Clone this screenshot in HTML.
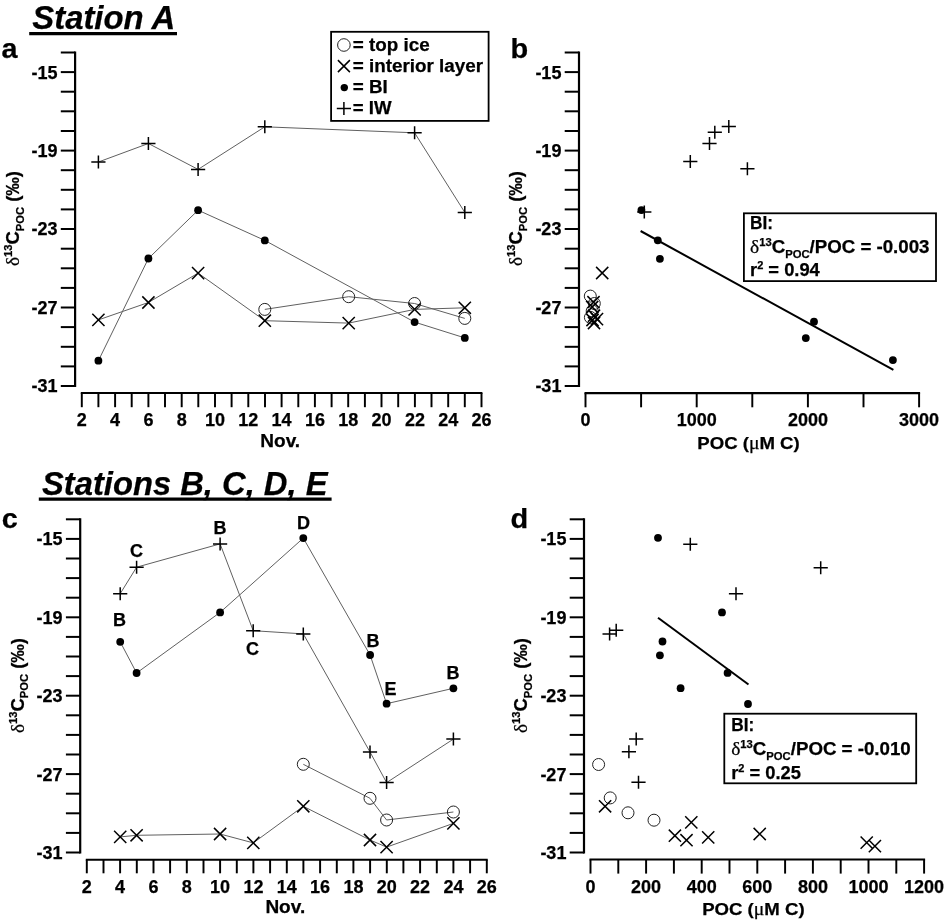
<!DOCTYPE html>
<html lang="en"><head><meta charset="utf-8"><title>Figure</title>
<style>html,body{margin:0;padding:0;background:#fff}svg{display:block}</style></head><body>
<svg width="945" height="920" viewBox="0 0 945 920" font-family="'Liberation Sans', Arial, Helvetica, sans-serif" font-weight="bold" fill="#000"><style>text{stroke:#000;stroke-width:0.25px}</style>
<rect width="945" height="920" fill="#fff"/>
<text x="32.3" y="29.3" font-size="33" font-style="italic" textLength="143" lengthAdjust="spacingAndGlyphs">Station A</text>
<line x1="29.2" y1="33.6" x2="177.0" y2="33.6" stroke="#000" stroke-width="3.1" stroke-linecap="butt"/>
<text x="42" y="495.3" font-size="33" font-style="italic" textLength="285.5" lengthAdjust="spacingAndGlyphs">Stations B, C, D, E</text>
<line x1="38.8" y1="499.1" x2="331.6" y2="499.1" stroke="#000" stroke-width="3.1" stroke-linecap="butt"/>
<text x="1.6" y="58.3" font-size="27.5" text-anchor="start" textLength="16" lengthAdjust="spacingAndGlyphs">a</text>
<text x="510.6" y="58.3" font-size="27.5" text-anchor="start" textLength="17.7" lengthAdjust="spacingAndGlyphs">b</text>
<text x="1.8" y="528.2" font-size="27.5" text-anchor="start" textLength="16" lengthAdjust="spacingAndGlyphs">c</text>
<text x="510.6" y="528.2" font-size="27.5" text-anchor="start" textLength="17.7" lengthAdjust="spacingAndGlyphs">d</text>
<line x1="75.1" y1="51.5" x2="75.1" y2="387.0" stroke="#000" stroke-width="2.2" stroke-linecap="butt"/>
<line x1="60.8" y1="52.5" x2="75.1" y2="52.5" stroke="#000" stroke-width="2.0" stroke-linecap="butt"/>
<line x1="60.8" y1="72.1" x2="75.1" y2="72.1" stroke="#000" stroke-width="2.0" stroke-linecap="butt"/>
<line x1="60.8" y1="91.7" x2="75.1" y2="91.7" stroke="#000" stroke-width="2.0" stroke-linecap="butt"/>
<line x1="60.8" y1="111.3" x2="75.1" y2="111.3" stroke="#000" stroke-width="2.0" stroke-linecap="butt"/>
<line x1="60.8" y1="131.0" x2="75.1" y2="131.0" stroke="#000" stroke-width="2.0" stroke-linecap="butt"/>
<line x1="60.8" y1="150.6" x2="75.1" y2="150.6" stroke="#000" stroke-width="2.0" stroke-linecap="butt"/>
<line x1="60.8" y1="170.2" x2="75.1" y2="170.2" stroke="#000" stroke-width="2.0" stroke-linecap="butt"/>
<line x1="60.8" y1="189.8" x2="75.1" y2="189.8" stroke="#000" stroke-width="2.0" stroke-linecap="butt"/>
<line x1="60.8" y1="209.4" x2="75.1" y2="209.4" stroke="#000" stroke-width="2.0" stroke-linecap="butt"/>
<line x1="60.8" y1="229.0" x2="75.1" y2="229.0" stroke="#000" stroke-width="2.0" stroke-linecap="butt"/>
<line x1="60.8" y1="248.7" x2="75.1" y2="248.7" stroke="#000" stroke-width="2.0" stroke-linecap="butt"/>
<line x1="60.8" y1="268.3" x2="75.1" y2="268.3" stroke="#000" stroke-width="2.0" stroke-linecap="butt"/>
<line x1="60.8" y1="287.9" x2="75.1" y2="287.9" stroke="#000" stroke-width="2.0" stroke-linecap="butt"/>
<line x1="60.8" y1="307.5" x2="75.1" y2="307.5" stroke="#000" stroke-width="2.0" stroke-linecap="butt"/>
<line x1="60.8" y1="327.1" x2="75.1" y2="327.1" stroke="#000" stroke-width="2.0" stroke-linecap="butt"/>
<line x1="60.8" y1="346.8" x2="75.1" y2="346.8" stroke="#000" stroke-width="2.0" stroke-linecap="butt"/>
<line x1="60.8" y1="366.4" x2="75.1" y2="366.4" stroke="#000" stroke-width="2.0" stroke-linecap="butt"/>
<line x1="60.8" y1="386.0" x2="75.1" y2="386.0" stroke="#000" stroke-width="2.0" stroke-linecap="butt"/>
<text x="57.5" y="78.5" font-size="18" text-anchor="end" >-15</text>
<text x="57.5" y="157.0" font-size="18" text-anchor="end" >-19</text>
<text x="57.5" y="235.4" font-size="18" text-anchor="end" >-23</text>
<text x="57.5" y="313.9" font-size="18" text-anchor="end" >-27</text>
<text x="57.5" y="392.4" font-size="18" text-anchor="end" >-31</text>
<line x1="80.8" y1="393.0" x2="482.4" y2="393.0" stroke="#000" stroke-width="2.05" stroke-linecap="butt"/>
<line x1="81.8" y1="393.0" x2="81.8" y2="407.2" stroke="#000" stroke-width="1.95" stroke-linecap="butt"/>
<line x1="98.4" y1="393.0" x2="98.4" y2="407.2" stroke="#000" stroke-width="1.95" stroke-linecap="butt"/>
<line x1="115.1" y1="393.0" x2="115.1" y2="407.2" stroke="#000" stroke-width="1.95" stroke-linecap="butt"/>
<line x1="131.7" y1="393.0" x2="131.7" y2="407.2" stroke="#000" stroke-width="1.95" stroke-linecap="butt"/>
<line x1="148.4" y1="393.0" x2="148.4" y2="407.2" stroke="#000" stroke-width="1.95" stroke-linecap="butt"/>
<line x1="165.0" y1="393.0" x2="165.0" y2="407.2" stroke="#000" stroke-width="1.95" stroke-linecap="butt"/>
<line x1="181.7" y1="393.0" x2="181.7" y2="407.2" stroke="#000" stroke-width="1.95" stroke-linecap="butt"/>
<line x1="198.3" y1="393.0" x2="198.3" y2="407.2" stroke="#000" stroke-width="1.95" stroke-linecap="butt"/>
<line x1="215.0" y1="393.0" x2="215.0" y2="407.2" stroke="#000" stroke-width="1.95" stroke-linecap="butt"/>
<line x1="231.6" y1="393.0" x2="231.6" y2="407.2" stroke="#000" stroke-width="1.95" stroke-linecap="butt"/>
<line x1="248.3" y1="393.0" x2="248.3" y2="407.2" stroke="#000" stroke-width="1.95" stroke-linecap="butt"/>
<line x1="265.0" y1="393.0" x2="265.0" y2="407.2" stroke="#000" stroke-width="1.95" stroke-linecap="butt"/>
<line x1="281.6" y1="393.0" x2="281.6" y2="407.2" stroke="#000" stroke-width="1.95" stroke-linecap="butt"/>
<line x1="298.3" y1="393.0" x2="298.3" y2="407.2" stroke="#000" stroke-width="1.95" stroke-linecap="butt"/>
<line x1="314.9" y1="393.0" x2="314.9" y2="407.2" stroke="#000" stroke-width="1.95" stroke-linecap="butt"/>
<line x1="331.6" y1="393.0" x2="331.6" y2="407.2" stroke="#000" stroke-width="1.95" stroke-linecap="butt"/>
<line x1="348.2" y1="393.0" x2="348.2" y2="407.2" stroke="#000" stroke-width="1.95" stroke-linecap="butt"/>
<line x1="364.9" y1="393.0" x2="364.9" y2="407.2" stroke="#000" stroke-width="1.95" stroke-linecap="butt"/>
<line x1="381.5" y1="393.0" x2="381.5" y2="407.2" stroke="#000" stroke-width="1.95" stroke-linecap="butt"/>
<line x1="398.2" y1="393.0" x2="398.2" y2="407.2" stroke="#000" stroke-width="1.95" stroke-linecap="butt"/>
<line x1="414.9" y1="393.0" x2="414.9" y2="407.2" stroke="#000" stroke-width="1.95" stroke-linecap="butt"/>
<line x1="431.5" y1="393.0" x2="431.5" y2="407.2" stroke="#000" stroke-width="1.95" stroke-linecap="butt"/>
<line x1="448.2" y1="393.0" x2="448.2" y2="407.2" stroke="#000" stroke-width="1.95" stroke-linecap="butt"/>
<line x1="464.8" y1="393.0" x2="464.8" y2="407.2" stroke="#000" stroke-width="1.95" stroke-linecap="butt"/>
<line x1="481.5" y1="393.0" x2="481.5" y2="407.2" stroke="#000" stroke-width="1.95" stroke-linecap="butt"/>
<text x="81.8" y="426.2" font-size="18" text-anchor="middle" >2</text>
<text x="115.1" y="426.2" font-size="18" text-anchor="middle" >4</text>
<text x="148.4" y="426.2" font-size="18" text-anchor="middle" >6</text>
<text x="181.7" y="426.2" font-size="18" text-anchor="middle" >8</text>
<text x="215.0" y="426.2" font-size="18" text-anchor="middle" >10</text>
<text x="248.3" y="426.2" font-size="18" text-anchor="middle" >12</text>
<text x="281.6" y="426.2" font-size="18" text-anchor="middle" >14</text>
<text x="314.9" y="426.2" font-size="18" text-anchor="middle" >16</text>
<text x="348.2" y="426.2" font-size="18" text-anchor="middle" >18</text>
<text x="381.5" y="426.2" font-size="18" text-anchor="middle" >20</text>
<text x="414.9" y="426.2" font-size="18" text-anchor="middle" >22</text>
<text x="448.2" y="426.2" font-size="18" text-anchor="middle" >24</text>
<text x="481.5" y="426.2" font-size="18" text-anchor="middle" >26</text>
<text x="260.3" y="447.4" font-size="18.5" textLength="39.8" lengthAdjust="spacingAndGlyphs">Nov.</text>
<text transform="translate(19.2,266.0) rotate(-90)" font-size="18.3" textLength="95" lengthAdjust="spacingAndGlyphs"><tspan font-family="'Liberation Serif', 'Times New Roman', serif" font-weight="normal" font-size="19">δ</tspan><tspan font-size="11" dy="-6.8">13</tspan><tspan dy="6.8">C</tspan><tspan font-size="11" dy="4.4">POC</tspan><tspan dy="-4.4"> (‰)</tspan></text>
<polyline points="98.4,162.0 148.4,143.5 198.1,169.4 264.8,126.8 414.6,132.8 464.8,212.4" stroke="#606060" stroke-width="1" fill="none"/>
<polyline points="98.4,360.7 148.4,258.5 198.1,210.2 264.8,240.4 414.6,322.1 464.8,337.9" stroke="#606060" stroke-width="1" fill="none"/>
<polyline points="98.4,319.9 148.4,302.5 198.1,273.1 264.8,320.7 348.7,323.1 414.6,309.4 464.8,307.8" stroke="#606060" stroke-width="1" fill="none"/>
<polyline points="264.8,309.4 348.7,296.7 414.6,303.5 464.8,318.4" stroke="#606060" stroke-width="1" fill="none"/>
<path d="M91.3 162.0H105.5M98.4 155.5V168.5" stroke="#000" stroke-width="1.5" fill="none"/>
<path d="M141.3 143.5H155.5M148.4 137.0V150.0" stroke="#000" stroke-width="1.5" fill="none"/>
<path d="M191.0 169.4H205.2M198.1 162.9V175.9" stroke="#000" stroke-width="1.5" fill="none"/>
<path d="M257.7 126.8H271.9M264.8 120.3V133.3" stroke="#000" stroke-width="1.5" fill="none"/>
<path d="M407.5 132.8H421.7M414.6 126.3V139.3" stroke="#000" stroke-width="1.5" fill="none"/>
<path d="M457.7 212.4H471.9M464.8 205.9V218.9" stroke="#000" stroke-width="1.5" fill="none"/>
<circle cx="98.4" cy="360.7" r="3.9" fill="#000"/>
<circle cx="148.4" cy="258.5" r="3.9" fill="#000"/>
<circle cx="198.1" cy="210.2" r="3.9" fill="#000"/>
<circle cx="264.8" cy="240.4" r="3.9" fill="#000"/>
<circle cx="414.6" cy="322.1" r="3.9" fill="#000"/>
<circle cx="464.8" cy="337.9" r="3.9" fill="#000"/>
<path d="M92.3 313.8L104.5 326.0M92.3 326.0L104.5 313.8" stroke="#000" stroke-width="1.5" fill="none"/>
<path d="M142.3 296.4L154.5 308.6M142.3 308.6L154.5 296.4" stroke="#000" stroke-width="1.5" fill="none"/>
<path d="M192.0 267.0L204.2 279.2M192.0 279.2L204.2 267.0" stroke="#000" stroke-width="1.5" fill="none"/>
<path d="M258.7 314.6L270.9 326.8M258.7 326.8L270.9 314.6" stroke="#000" stroke-width="1.5" fill="none"/>
<path d="M342.6 317.0L354.8 329.2M342.6 329.2L354.8 317.0" stroke="#000" stroke-width="1.5" fill="none"/>
<path d="M408.5 303.3L420.7 315.5M408.5 315.5L420.7 303.3" stroke="#000" stroke-width="1.5" fill="none"/>
<path d="M458.7 301.7L470.9 313.9M458.7 313.9L470.9 301.7" stroke="#000" stroke-width="1.5" fill="none"/>
<circle cx="264.8" cy="309.4" r="6.0" stroke="#222" stroke-width="1" fill="none"/>
<circle cx="348.7" cy="296.7" r="6.0" stroke="#222" stroke-width="1" fill="none"/>
<circle cx="414.6" cy="303.5" r="6.0" stroke="#222" stroke-width="1" fill="none"/>
<circle cx="464.8" cy="318.4" r="6.0" stroke="#222" stroke-width="1" fill="none"/>
<rect x="331.1" y="31.8" width="157.5" height="89.1" fill="#fff" stroke="#000" stroke-width="1.8"/>
<circle cx="343.9" cy="45.0" r="6.3" stroke="#222" stroke-width="1" fill="none"/>
<path d="M337.9 60.1L349.9 72.1M337.9 72.1L349.9 60.1" stroke="#000" stroke-width="1.5" fill="none"/>
<circle cx="344.3" cy="87.6" r="3.7" fill="#000"/>
<path d="M336.8 108.6H351.0M343.9 102.1V115.1" stroke="#000" stroke-width="1.5" fill="none"/>
<text x="352.8" y="50.6" font-size="18" textLength="76.9" lengthAdjust="spacingAndGlyphs">= top ice</text>
<text x="352.8" y="71.5" font-size="18" textLength="130.3" lengthAdjust="spacingAndGlyphs">= interior layer</text>
<text x="352.8" y="92.8" font-size="18" textLength="35.0" lengthAdjust="spacingAndGlyphs">= BI</text>
<text x="352.8" y="114.2" font-size="18" textLength="38.8" lengthAdjust="spacingAndGlyphs">= IW</text>
<line x1="579.0" y1="51.5" x2="579.0" y2="387.0" stroke="#000" stroke-width="2.2" stroke-linecap="butt"/>
<line x1="564.7" y1="52.5" x2="579.0" y2="52.5" stroke="#000" stroke-width="2.0" stroke-linecap="butt"/>
<line x1="564.7" y1="72.1" x2="579.0" y2="72.1" stroke="#000" stroke-width="2.0" stroke-linecap="butt"/>
<line x1="564.7" y1="91.7" x2="579.0" y2="91.7" stroke="#000" stroke-width="2.0" stroke-linecap="butt"/>
<line x1="564.7" y1="111.3" x2="579.0" y2="111.3" stroke="#000" stroke-width="2.0" stroke-linecap="butt"/>
<line x1="564.7" y1="131.0" x2="579.0" y2="131.0" stroke="#000" stroke-width="2.0" stroke-linecap="butt"/>
<line x1="564.7" y1="150.6" x2="579.0" y2="150.6" stroke="#000" stroke-width="2.0" stroke-linecap="butt"/>
<line x1="564.7" y1="170.2" x2="579.0" y2="170.2" stroke="#000" stroke-width="2.0" stroke-linecap="butt"/>
<line x1="564.7" y1="189.8" x2="579.0" y2="189.8" stroke="#000" stroke-width="2.0" stroke-linecap="butt"/>
<line x1="564.7" y1="209.4" x2="579.0" y2="209.4" stroke="#000" stroke-width="2.0" stroke-linecap="butt"/>
<line x1="564.7" y1="229.0" x2="579.0" y2="229.0" stroke="#000" stroke-width="2.0" stroke-linecap="butt"/>
<line x1="564.7" y1="248.7" x2="579.0" y2="248.7" stroke="#000" stroke-width="2.0" stroke-linecap="butt"/>
<line x1="564.7" y1="268.3" x2="579.0" y2="268.3" stroke="#000" stroke-width="2.0" stroke-linecap="butt"/>
<line x1="564.7" y1="287.9" x2="579.0" y2="287.9" stroke="#000" stroke-width="2.0" stroke-linecap="butt"/>
<line x1="564.7" y1="307.5" x2="579.0" y2="307.5" stroke="#000" stroke-width="2.0" stroke-linecap="butt"/>
<line x1="564.7" y1="327.1" x2="579.0" y2="327.1" stroke="#000" stroke-width="2.0" stroke-linecap="butt"/>
<line x1="564.7" y1="346.8" x2="579.0" y2="346.8" stroke="#000" stroke-width="2.0" stroke-linecap="butt"/>
<line x1="564.7" y1="366.4" x2="579.0" y2="366.4" stroke="#000" stroke-width="2.0" stroke-linecap="butt"/>
<line x1="564.7" y1="386.0" x2="579.0" y2="386.0" stroke="#000" stroke-width="2.0" stroke-linecap="butt"/>
<text x="561.4" y="78.5" font-size="18" text-anchor="end" >-15</text>
<text x="561.4" y="157.0" font-size="18" text-anchor="end" >-19</text>
<text x="561.4" y="235.4" font-size="18" text-anchor="end" >-23</text>
<text x="561.4" y="313.9" font-size="18" text-anchor="end" >-27</text>
<text x="561.4" y="392.4" font-size="18" text-anchor="end" >-31</text>
<line x1="584.5" y1="393.1" x2="920.1" y2="393.1" stroke="#000" stroke-width="2.05" stroke-linecap="butt"/>
<line x1="585.5" y1="393.1" x2="585.5" y2="407.3" stroke="#000" stroke-width="1.95" stroke-linecap="butt"/>
<line x1="641.1" y1="393.1" x2="641.1" y2="407.3" stroke="#000" stroke-width="1.95" stroke-linecap="butt"/>
<line x1="696.7" y1="393.1" x2="696.7" y2="407.3" stroke="#000" stroke-width="1.95" stroke-linecap="butt"/>
<line x1="752.3" y1="393.1" x2="752.3" y2="407.3" stroke="#000" stroke-width="1.95" stroke-linecap="butt"/>
<line x1="807.9" y1="393.1" x2="807.9" y2="407.3" stroke="#000" stroke-width="1.95" stroke-linecap="butt"/>
<line x1="863.5" y1="393.1" x2="863.5" y2="407.3" stroke="#000" stroke-width="1.95" stroke-linecap="butt"/>
<line x1="919.1" y1="393.1" x2="919.1" y2="407.3" stroke="#000" stroke-width="1.95" stroke-linecap="butt"/>
<text x="585.5" y="426.3" font-size="18" text-anchor="middle" >0</text>
<text x="696.7" y="426.3" font-size="18" text-anchor="middle" >1000</text>
<text x="807.9" y="426.3" font-size="18" text-anchor="middle" >2000</text>
<text x="919.1" y="426.3" font-size="18" text-anchor="middle" >3000</text>
<text x="697.3" y="448.5" font-size="17" textLength="102.4" lengthAdjust="spacingAndGlyphs">POC (<tspan font-family="'Liberation Serif', 'Times New Roman', serif" font-weight="normal" font-size="18">μ</tspan>M C)</text>
<text transform="translate(522.2,266.0) rotate(-90)" font-size="18.3" textLength="95" lengthAdjust="spacingAndGlyphs"><tspan font-family="'Liberation Serif', 'Times New Roman', serif" font-weight="normal" font-size="19">δ</tspan><tspan font-size="11" dy="-6.8">13</tspan><tspan dy="6.8">C</tspan><tspan font-size="11" dy="4.4">POC</tspan><tspan dy="-4.4"> (‰)</tspan></text>
<line x1="640.6" y1="231.0" x2="893.4" y2="369.9" stroke="#000" stroke-width="2" stroke-linecap="butt"/>
<circle cx="590.3" cy="296.1" r="6.0" stroke="#222" stroke-width="1" fill="none"/>
<circle cx="594.3" cy="303.5" r="6.0" stroke="#222" stroke-width="1" fill="none"/>
<circle cx="592.2" cy="310.9" r="6.0" stroke="#222" stroke-width="1" fill="none"/>
<circle cx="590.4" cy="317.4" r="6.0" stroke="#222" stroke-width="1" fill="none"/>
<path d="M596.1 266.9L608.3 279.1M596.1 279.1L608.3 266.9" stroke="#000" stroke-width="1.5" fill="none"/>
<path d="M587.4 296.1L599.6 308.3M587.4 308.3L599.6 296.1" stroke="#000" stroke-width="1.5" fill="none"/>
<path d="M586.1 300.9L598.3 313.1M586.1 313.1L598.3 300.9" stroke="#000" stroke-width="1.5" fill="none"/>
<path d="M587.9 309.6L600.1 321.8M587.9 321.8L600.1 309.6" stroke="#000" stroke-width="1.5" fill="none"/>
<path d="M590.9 313.0L603.1 325.2M590.9 325.2L603.1 313.0" stroke="#000" stroke-width="1.5" fill="none"/>
<path d="M587.9 316.9L600.1 329.1M587.9 329.1L600.1 316.9" stroke="#000" stroke-width="1.5" fill="none"/>
<path d="M586.4 313.9L598.6 326.1M586.4 326.1L598.6 313.9" stroke="#000" stroke-width="1.5" fill="none"/>
<path d="M637.2 212.0H651.4M644.3 205.5V218.5" stroke="#000" stroke-width="1.5" fill="none"/>
<path d="M683.2 161.4H697.4M690.3 154.9V167.9" stroke="#000" stroke-width="1.5" fill="none"/>
<path d="M702.4 143.5H716.6M709.5 137.0V150.0" stroke="#000" stroke-width="1.5" fill="none"/>
<path d="M707.7 132.3H721.9M714.8 125.8V138.8" stroke="#000" stroke-width="1.5" fill="none"/>
<path d="M721.7 126.5H735.9M728.8 120.0V133.0" stroke="#000" stroke-width="1.5" fill="none"/>
<path d="M740.3 168.8H754.5M747.4 162.3V175.3" stroke="#000" stroke-width="1.5" fill="none"/>
<circle cx="641.4" cy="210.1" r="3.9" fill="#000"/>
<circle cx="657.8" cy="240.3" r="3.9" fill="#000"/>
<circle cx="659.9" cy="258.8" r="3.9" fill="#000"/>
<circle cx="814.0" cy="321.7" r="3.9" fill="#000"/>
<circle cx="805.8" cy="338.1" r="3.9" fill="#000"/>
<circle cx="892.9" cy="360.1" r="3.9" fill="#000"/>
<rect x="743.9" y="213.3" width="192.1" height="67.8" fill="#fff" stroke="#000" stroke-width="1.8"/>
<text x="750.0" y="228.9" font-size="18.3" textLength="23" lengthAdjust="spacingAndGlyphs">BI:</text>
<text x="750.0" y="252.9" font-size="18.3" textLength="179.5" lengthAdjust="spacingAndGlyphs"><tspan font-family="'Liberation Serif', 'Times New Roman', serif" font-weight="normal" font-size="19">δ</tspan><tspan font-size="11" dy="-6.8">13</tspan><tspan dy="6.8">C</tspan><tspan font-size="11" dy="4.6">POC</tspan><tspan dy="-4.6">/POC = -0.003</tspan></text>
<text x="750.0" y="276.0" font-size="18.3" textLength="69.8" lengthAdjust="spacingAndGlyphs">r<tspan font-size="11" dy="-6.8">2</tspan><tspan dy="6.8"> = 0.94</tspan></text>
<line x1="80.2" y1="518.3" x2="80.2" y2="853.5" stroke="#000" stroke-width="2.2" stroke-linecap="butt"/>
<line x1="65.9" y1="519.3" x2="80.2" y2="519.3" stroke="#000" stroke-width="2.0" stroke-linecap="butt"/>
<line x1="65.9" y1="538.9" x2="80.2" y2="538.9" stroke="#000" stroke-width="2.0" stroke-linecap="butt"/>
<line x1="65.9" y1="558.5" x2="80.2" y2="558.5" stroke="#000" stroke-width="2.0" stroke-linecap="butt"/>
<line x1="65.9" y1="578.1" x2="80.2" y2="578.1" stroke="#000" stroke-width="2.0" stroke-linecap="butt"/>
<line x1="65.9" y1="597.7" x2="80.2" y2="597.7" stroke="#000" stroke-width="2.0" stroke-linecap="butt"/>
<line x1="65.9" y1="617.3" x2="80.2" y2="617.3" stroke="#000" stroke-width="2.0" stroke-linecap="butt"/>
<line x1="65.9" y1="636.9" x2="80.2" y2="636.9" stroke="#000" stroke-width="2.0" stroke-linecap="butt"/>
<line x1="65.9" y1="656.5" x2="80.2" y2="656.5" stroke="#000" stroke-width="2.0" stroke-linecap="butt"/>
<line x1="65.9" y1="676.1" x2="80.2" y2="676.1" stroke="#000" stroke-width="2.0" stroke-linecap="butt"/>
<line x1="65.9" y1="695.7" x2="80.2" y2="695.7" stroke="#000" stroke-width="2.0" stroke-linecap="butt"/>
<line x1="65.9" y1="715.3" x2="80.2" y2="715.3" stroke="#000" stroke-width="2.0" stroke-linecap="butt"/>
<line x1="65.9" y1="734.9" x2="80.2" y2="734.9" stroke="#000" stroke-width="2.0" stroke-linecap="butt"/>
<line x1="65.9" y1="754.5" x2="80.2" y2="754.5" stroke="#000" stroke-width="2.0" stroke-linecap="butt"/>
<line x1="65.9" y1="774.1" x2="80.2" y2="774.1" stroke="#000" stroke-width="2.0" stroke-linecap="butt"/>
<line x1="65.9" y1="793.7" x2="80.2" y2="793.7" stroke="#000" stroke-width="2.0" stroke-linecap="butt"/>
<line x1="65.9" y1="813.3" x2="80.2" y2="813.3" stroke="#000" stroke-width="2.0" stroke-linecap="butt"/>
<line x1="65.9" y1="832.9" x2="80.2" y2="832.9" stroke="#000" stroke-width="2.0" stroke-linecap="butt"/>
<line x1="65.9" y1="852.5" x2="80.2" y2="852.5" stroke="#000" stroke-width="2.0" stroke-linecap="butt"/>
<text x="62.6" y="545.3" font-size="18" text-anchor="end" >-15</text>
<text x="62.6" y="623.7" font-size="18" text-anchor="end" >-19</text>
<text x="62.6" y="702.1" font-size="18" text-anchor="end" >-23</text>
<text x="62.6" y="780.5" font-size="18" text-anchor="end" >-27</text>
<text x="62.6" y="858.9" font-size="18" text-anchor="end" >-31</text>
<line x1="85.8" y1="859.7" x2="487.7" y2="859.7" stroke="#000" stroke-width="2.05" stroke-linecap="butt"/>
<line x1="86.8" y1="859.7" x2="86.8" y2="873.3" stroke="#000" stroke-width="1.95" stroke-linecap="butt"/>
<line x1="103.5" y1="859.7" x2="103.5" y2="873.3" stroke="#000" stroke-width="1.95" stroke-linecap="butt"/>
<line x1="120.1" y1="859.7" x2="120.1" y2="873.3" stroke="#000" stroke-width="1.95" stroke-linecap="butt"/>
<line x1="136.8" y1="859.7" x2="136.8" y2="873.3" stroke="#000" stroke-width="1.95" stroke-linecap="butt"/>
<line x1="153.5" y1="859.7" x2="153.5" y2="873.3" stroke="#000" stroke-width="1.95" stroke-linecap="butt"/>
<line x1="170.1" y1="859.7" x2="170.1" y2="873.3" stroke="#000" stroke-width="1.95" stroke-linecap="butt"/>
<line x1="186.8" y1="859.7" x2="186.8" y2="873.3" stroke="#000" stroke-width="1.95" stroke-linecap="butt"/>
<line x1="203.5" y1="859.7" x2="203.5" y2="873.3" stroke="#000" stroke-width="1.95" stroke-linecap="butt"/>
<line x1="220.1" y1="859.7" x2="220.1" y2="873.3" stroke="#000" stroke-width="1.95" stroke-linecap="butt"/>
<line x1="236.8" y1="859.7" x2="236.8" y2="873.3" stroke="#000" stroke-width="1.95" stroke-linecap="butt"/>
<line x1="253.4" y1="859.7" x2="253.4" y2="873.3" stroke="#000" stroke-width="1.95" stroke-linecap="butt"/>
<line x1="270.1" y1="859.7" x2="270.1" y2="873.3" stroke="#000" stroke-width="1.95" stroke-linecap="butt"/>
<line x1="286.8" y1="859.7" x2="286.8" y2="873.3" stroke="#000" stroke-width="1.95" stroke-linecap="butt"/>
<line x1="303.4" y1="859.7" x2="303.4" y2="873.3" stroke="#000" stroke-width="1.95" stroke-linecap="butt"/>
<line x1="320.1" y1="859.7" x2="320.1" y2="873.3" stroke="#000" stroke-width="1.95" stroke-linecap="butt"/>
<line x1="336.8" y1="859.7" x2="336.8" y2="873.3" stroke="#000" stroke-width="1.95" stroke-linecap="butt"/>
<line x1="353.4" y1="859.7" x2="353.4" y2="873.3" stroke="#000" stroke-width="1.95" stroke-linecap="butt"/>
<line x1="370.1" y1="859.7" x2="370.1" y2="873.3" stroke="#000" stroke-width="1.95" stroke-linecap="butt"/>
<line x1="386.8" y1="859.7" x2="386.8" y2="873.3" stroke="#000" stroke-width="1.95" stroke-linecap="butt"/>
<line x1="403.4" y1="859.7" x2="403.4" y2="873.3" stroke="#000" stroke-width="1.95" stroke-linecap="butt"/>
<line x1="420.1" y1="859.7" x2="420.1" y2="873.3" stroke="#000" stroke-width="1.95" stroke-linecap="butt"/>
<line x1="436.8" y1="859.7" x2="436.8" y2="873.3" stroke="#000" stroke-width="1.95" stroke-linecap="butt"/>
<line x1="453.4" y1="859.7" x2="453.4" y2="873.3" stroke="#000" stroke-width="1.95" stroke-linecap="butt"/>
<line x1="470.1" y1="859.7" x2="470.1" y2="873.3" stroke="#000" stroke-width="1.95" stroke-linecap="butt"/>
<line x1="486.8" y1="859.7" x2="486.8" y2="873.3" stroke="#000" stroke-width="1.95" stroke-linecap="butt"/>
<text x="86.8" y="892.6" font-size="18" text-anchor="middle" >2</text>
<text x="120.1" y="892.6" font-size="18" text-anchor="middle" >4</text>
<text x="153.5" y="892.6" font-size="18" text-anchor="middle" >6</text>
<text x="186.8" y="892.6" font-size="18" text-anchor="middle" >8</text>
<text x="220.1" y="892.6" font-size="18" text-anchor="middle" >10</text>
<text x="253.4" y="892.6" font-size="18" text-anchor="middle" >12</text>
<text x="286.8" y="892.6" font-size="18" text-anchor="middle" >14</text>
<text x="320.1" y="892.6" font-size="18" text-anchor="middle" >16</text>
<text x="353.4" y="892.6" font-size="18" text-anchor="middle" >18</text>
<text x="386.8" y="892.6" font-size="18" text-anchor="middle" >20</text>
<text x="420.1" y="892.6" font-size="18" text-anchor="middle" >22</text>
<text x="453.4" y="892.6" font-size="18" text-anchor="middle" >24</text>
<text x="486.8" y="892.6" font-size="18" text-anchor="middle" >26</text>
<text x="265.4" y="913.3" font-size="18.5" textLength="39.8" lengthAdjust="spacingAndGlyphs">Nov.</text>
<text transform="translate(23.7,733.0) rotate(-90)" font-size="18.3" textLength="95" lengthAdjust="spacingAndGlyphs"><tspan font-family="'Liberation Serif', 'Times New Roman', serif" font-weight="normal" font-size="19">δ</tspan><tspan font-size="11" dy="-6.8">13</tspan><tspan dy="6.8">C</tspan><tspan font-size="11" dy="4.4">POC</tspan><tspan dy="-4.4"> (‰)</tspan></text>
<polyline points="120.2,593.7 136.6,567.2 220.1,543.9 253.2,630.7 303.3,633.9 370.0,752.0 386.6,782.6 453.4,739.1" stroke="#606060" stroke-width="1" fill="none"/>
<polyline points="120.2,641.8 136.6,673.0 220.1,612.4 303.3,538.1 370.1,655.0 386.6,703.7 453.4,688.3" stroke="#606060" stroke-width="1" fill="none"/>
<polyline points="120.2,836.9 136.6,835.3 220.1,834.0 253.3,842.9 303.3,806.3 370.0,840.0 386.6,847.1 453.4,823.4" stroke="#606060" stroke-width="1" fill="none"/>
<polyline points="303.3,764.3 370.0,798.3 386.6,820.0 453.4,812.0" stroke="#606060" stroke-width="1" fill="none"/>
<path d="M113.1 593.7H127.3M120.2 587.2V600.2" stroke="#000" stroke-width="1.5" fill="none"/>
<path d="M129.5 567.2H143.7M136.6 560.7V573.7" stroke="#000" stroke-width="1.5" fill="none"/>
<path d="M213.0 543.9H227.2M220.1 537.4V550.4" stroke="#000" stroke-width="1.5" fill="none"/>
<path d="M246.1 630.7H260.3M253.2 624.2V637.2" stroke="#000" stroke-width="1.5" fill="none"/>
<path d="M296.2 633.9H310.4M303.3 627.4V640.4" stroke="#000" stroke-width="1.5" fill="none"/>
<path d="M362.9 752.0H377.1M370.0 745.5V758.5" stroke="#000" stroke-width="1.5" fill="none"/>
<path d="M379.5 782.6H393.7M386.6 776.1V789.1" stroke="#000" stroke-width="1.5" fill="none"/>
<path d="M446.3 739.1H460.5M453.4 732.6V745.6" stroke="#000" stroke-width="1.5" fill="none"/>
<circle cx="120.2" cy="641.8" r="3.9" fill="#000"/>
<circle cx="136.6" cy="673.0" r="3.9" fill="#000"/>
<circle cx="220.1" cy="612.4" r="3.9" fill="#000"/>
<circle cx="303.3" cy="538.1" r="3.9" fill="#000"/>
<circle cx="370.1" cy="655.0" r="3.9" fill="#000"/>
<circle cx="386.6" cy="703.7" r="3.9" fill="#000"/>
<circle cx="453.4" cy="688.3" r="3.9" fill="#000"/>
<path d="M114.1 830.8L126.3 843.0M114.1 843.0L126.3 830.8" stroke="#000" stroke-width="1.5" fill="none"/>
<path d="M130.5 829.2L142.7 841.4M130.5 841.4L142.7 829.2" stroke="#000" stroke-width="1.5" fill="none"/>
<path d="M214.0 827.9L226.2 840.1M214.0 840.1L226.2 827.9" stroke="#000" stroke-width="1.5" fill="none"/>
<path d="M247.2 836.8L259.4 849.0M247.2 849.0L259.4 836.8" stroke="#000" stroke-width="1.5" fill="none"/>
<path d="M297.2 800.2L309.4 812.4M297.2 812.4L309.4 800.2" stroke="#000" stroke-width="1.5" fill="none"/>
<path d="M363.9 833.9L376.1 846.1M363.9 846.1L376.1 833.9" stroke="#000" stroke-width="1.5" fill="none"/>
<path d="M380.5 841.0L392.7 853.2M380.5 853.2L392.7 841.0" stroke="#000" stroke-width="1.5" fill="none"/>
<path d="M447.3 817.3L459.5 829.5M447.3 829.5L459.5 817.3" stroke="#000" stroke-width="1.5" fill="none"/>
<circle cx="303.3" cy="764.3" r="6.0" stroke="#222" stroke-width="1" fill="none"/>
<circle cx="370.0" cy="798.3" r="6.0" stroke="#222" stroke-width="1" fill="none"/>
<circle cx="386.6" cy="820.0" r="6.0" stroke="#222" stroke-width="1" fill="none"/>
<circle cx="453.4" cy="812.0" r="6.0" stroke="#222" stroke-width="1" fill="none"/>
<text x="136.5" y="557.2" font-size="18" text-anchor="middle" >C</text>
<text x="220.1" y="534.2" font-size="18" text-anchor="middle" >B</text>
<text x="119.6" y="625.5" font-size="18" text-anchor="middle" >B</text>
<text x="303.5" y="528.9" font-size="18" text-anchor="middle" >D</text>
<text x="252.5" y="655.1" font-size="18" text-anchor="middle" >C</text>
<text x="372.9" y="647.2" font-size="18" text-anchor="middle" >B</text>
<text x="390.6" y="694.6" font-size="18" text-anchor="middle" >E</text>
<text x="452.9" y="678.9" font-size="18" text-anchor="middle" >B</text>
<line x1="584.0" y1="518.3" x2="584.0" y2="853.5" stroke="#000" stroke-width="2.2" stroke-linecap="butt"/>
<line x1="569.7" y1="519.3" x2="584.0" y2="519.3" stroke="#000" stroke-width="2.0" stroke-linecap="butt"/>
<line x1="569.7" y1="538.9" x2="584.0" y2="538.9" stroke="#000" stroke-width="2.0" stroke-linecap="butt"/>
<line x1="569.7" y1="558.5" x2="584.0" y2="558.5" stroke="#000" stroke-width="2.0" stroke-linecap="butt"/>
<line x1="569.7" y1="578.1" x2="584.0" y2="578.1" stroke="#000" stroke-width="2.0" stroke-linecap="butt"/>
<line x1="569.7" y1="597.7" x2="584.0" y2="597.7" stroke="#000" stroke-width="2.0" stroke-linecap="butt"/>
<line x1="569.7" y1="617.3" x2="584.0" y2="617.3" stroke="#000" stroke-width="2.0" stroke-linecap="butt"/>
<line x1="569.7" y1="636.9" x2="584.0" y2="636.9" stroke="#000" stroke-width="2.0" stroke-linecap="butt"/>
<line x1="569.7" y1="656.5" x2="584.0" y2="656.5" stroke="#000" stroke-width="2.0" stroke-linecap="butt"/>
<line x1="569.7" y1="676.1" x2="584.0" y2="676.1" stroke="#000" stroke-width="2.0" stroke-linecap="butt"/>
<line x1="569.7" y1="695.7" x2="584.0" y2="695.7" stroke="#000" stroke-width="2.0" stroke-linecap="butt"/>
<line x1="569.7" y1="715.3" x2="584.0" y2="715.3" stroke="#000" stroke-width="2.0" stroke-linecap="butt"/>
<line x1="569.7" y1="734.9" x2="584.0" y2="734.9" stroke="#000" stroke-width="2.0" stroke-linecap="butt"/>
<line x1="569.7" y1="754.5" x2="584.0" y2="754.5" stroke="#000" stroke-width="2.0" stroke-linecap="butt"/>
<line x1="569.7" y1="774.1" x2="584.0" y2="774.1" stroke="#000" stroke-width="2.0" stroke-linecap="butt"/>
<line x1="569.7" y1="793.7" x2="584.0" y2="793.7" stroke="#000" stroke-width="2.0" stroke-linecap="butt"/>
<line x1="569.7" y1="813.3" x2="584.0" y2="813.3" stroke="#000" stroke-width="2.0" stroke-linecap="butt"/>
<line x1="569.7" y1="832.9" x2="584.0" y2="832.9" stroke="#000" stroke-width="2.0" stroke-linecap="butt"/>
<line x1="569.7" y1="852.5" x2="584.0" y2="852.5" stroke="#000" stroke-width="2.0" stroke-linecap="butt"/>
<text x="566.4" y="545.3" font-size="18" text-anchor="end" >-15</text>
<text x="566.4" y="623.7" font-size="18" text-anchor="end" >-19</text>
<text x="566.4" y="702.1" font-size="18" text-anchor="end" >-23</text>
<text x="566.4" y="780.5" font-size="18" text-anchor="end" >-27</text>
<text x="566.4" y="858.9" font-size="18" text-anchor="end" >-31</text>
<line x1="589.5" y1="859.5" x2="925.1" y2="859.5" stroke="#000" stroke-width="2.05" stroke-linecap="butt"/>
<line x1="590.5" y1="859.5" x2="590.5" y2="873.6" stroke="#000" stroke-width="1.95" stroke-linecap="butt"/>
<line x1="618.3" y1="859.5" x2="618.3" y2="873.6" stroke="#000" stroke-width="1.95" stroke-linecap="butt"/>
<line x1="646.1" y1="859.5" x2="646.1" y2="873.6" stroke="#000" stroke-width="1.95" stroke-linecap="butt"/>
<line x1="673.9" y1="859.5" x2="673.9" y2="873.6" stroke="#000" stroke-width="1.95" stroke-linecap="butt"/>
<line x1="701.7" y1="859.5" x2="701.7" y2="873.6" stroke="#000" stroke-width="1.95" stroke-linecap="butt"/>
<line x1="729.5" y1="859.5" x2="729.5" y2="873.6" stroke="#000" stroke-width="1.95" stroke-linecap="butt"/>
<line x1="757.3" y1="859.5" x2="757.3" y2="873.6" stroke="#000" stroke-width="1.95" stroke-linecap="butt"/>
<line x1="785.1" y1="859.5" x2="785.1" y2="873.6" stroke="#000" stroke-width="1.95" stroke-linecap="butt"/>
<line x1="812.9" y1="859.5" x2="812.9" y2="873.6" stroke="#000" stroke-width="1.95" stroke-linecap="butt"/>
<line x1="840.7" y1="859.5" x2="840.7" y2="873.6" stroke="#000" stroke-width="1.95" stroke-linecap="butt"/>
<line x1="868.5" y1="859.5" x2="868.5" y2="873.6" stroke="#000" stroke-width="1.95" stroke-linecap="butt"/>
<line x1="896.3" y1="859.5" x2="896.3" y2="873.6" stroke="#000" stroke-width="1.95" stroke-linecap="butt"/>
<line x1="924.1" y1="859.5" x2="924.1" y2="873.6" stroke="#000" stroke-width="1.95" stroke-linecap="butt"/>
<text x="590.5" y="892.5" font-size="18" text-anchor="middle" >0</text>
<text x="646.1" y="892.5" font-size="18" text-anchor="middle" >200</text>
<text x="701.7" y="892.5" font-size="18" text-anchor="middle" >400</text>
<text x="757.3" y="892.5" font-size="18" text-anchor="middle" >600</text>
<text x="812.9" y="892.5" font-size="18" text-anchor="middle" >800</text>
<text x="868.5" y="892.5" font-size="18" text-anchor="middle" >1000</text>
<text x="924.1" y="892.5" font-size="18" text-anchor="middle" >1200</text>
<text x="702.2" y="914.6" font-size="17" textLength="102.4" lengthAdjust="spacingAndGlyphs">POC (<tspan font-family="'Liberation Serif', 'Times New Roman', serif" font-weight="normal" font-size="18">μ</tspan>M C)</text>
<text transform="translate(527.2,733.0) rotate(-90)" font-size="18.3" textLength="95" lengthAdjust="spacingAndGlyphs"><tspan font-family="'Liberation Serif', 'Times New Roman', serif" font-weight="normal" font-size="19">δ</tspan><tspan font-size="11" dy="-6.8">13</tspan><tspan dy="6.8">C</tspan><tspan font-size="11" dy="4.4">POC</tspan><tspan dy="-4.4"> (‰)</tspan></text>
<line x1="658.0" y1="617.7" x2="748.5" y2="684.5" stroke="#000" stroke-width="2" stroke-linecap="butt"/>
<circle cx="598.6" cy="764.5" r="6.0" stroke="#222" stroke-width="1" fill="none"/>
<circle cx="610.2" cy="797.9" r="6.0" stroke="#222" stroke-width="1" fill="none"/>
<circle cx="628.0" cy="812.8" r="6.0" stroke="#222" stroke-width="1" fill="none"/>
<circle cx="654.0" cy="820.2" r="6.0" stroke="#222" stroke-width="1" fill="none"/>
<path d="M599.0 800.2L611.2 812.4M599.0 812.4L611.2 800.2" stroke="#000" stroke-width="1.5" fill="none"/>
<path d="M668.8 829.6L681.0 841.8M668.8 841.8L681.0 829.6" stroke="#000" stroke-width="1.5" fill="none"/>
<path d="M685.2 816.3L697.4 828.5M685.2 828.5L697.4 816.3" stroke="#000" stroke-width="1.5" fill="none"/>
<path d="M680.4 834.1L692.6 846.3M680.4 846.3L692.6 834.1" stroke="#000" stroke-width="1.5" fill="none"/>
<path d="M702.1 831.3L714.3 843.5M702.1 843.5L714.3 831.3" stroke="#000" stroke-width="1.5" fill="none"/>
<path d="M753.6 827.9L765.8 840.1M753.6 840.1L765.8 827.9" stroke="#000" stroke-width="1.5" fill="none"/>
<path d="M860.6 836.5L872.8 848.7M860.6 848.7L872.8 836.5" stroke="#000" stroke-width="1.5" fill="none"/>
<path d="M868.8 840.0L881.0 852.2M868.8 852.2L881.0 840.0" stroke="#000" stroke-width="1.5" fill="none"/>
<path d="M683.2 544.2H697.4M690.3 537.7V550.7" stroke="#000" stroke-width="1.5" fill="none"/>
<path d="M602.5 633.9H616.7M609.6 627.4V640.4" stroke="#000" stroke-width="1.5" fill="none"/>
<path d="M609.1 630.2H623.3M616.2 623.7V636.7" stroke="#000" stroke-width="1.5" fill="none"/>
<path d="M728.9 593.7H743.1M736.0 587.2V600.2" stroke="#000" stroke-width="1.5" fill="none"/>
<path d="M813.6 567.7H827.8M820.7 561.2V574.2" stroke="#000" stroke-width="1.5" fill="none"/>
<path d="M629.1 739.1H643.3M636.2 732.6V745.6" stroke="#000" stroke-width="1.5" fill="none"/>
<path d="M621.8 751.8H636.0M628.9 745.3V758.3" stroke="#000" stroke-width="1.5" fill="none"/>
<path d="M631.4 782.3H645.6M638.5 775.8V788.8" stroke="#000" stroke-width="1.5" fill="none"/>
<circle cx="658.0" cy="537.8" r="3.9" fill="#000"/>
<circle cx="722.0" cy="612.4" r="3.9" fill="#000"/>
<circle cx="662.5" cy="641.5" r="3.9" fill="#000"/>
<circle cx="659.9" cy="655.3" r="3.9" fill="#000"/>
<circle cx="727.6" cy="672.9" r="3.9" fill="#000"/>
<circle cx="680.6" cy="688.2" r="3.9" fill="#000"/>
<circle cx="748.0" cy="704.0" r="3.9" fill="#000"/>
<rect x="724.3" y="713.7" width="191.9" height="69.6" fill="#fff" stroke="#000" stroke-width="1.8"/>
<text x="731.2" y="731.2" font-size="18.3" textLength="23" lengthAdjust="spacingAndGlyphs">BI:</text>
<text x="731.2" y="755.2" font-size="18.3" textLength="179.5" lengthAdjust="spacingAndGlyphs"><tspan font-family="'Liberation Serif', 'Times New Roman', serif" font-weight="normal" font-size="19">δ</tspan><tspan font-size="11" dy="-6.8">13</tspan><tspan dy="6.8">C</tspan><tspan font-size="11" dy="4.6">POC</tspan><tspan dy="-4.6">/POC = -0.010</tspan></text>
<text x="731.2" y="778.9" font-size="18.3" textLength="69.8" lengthAdjust="spacingAndGlyphs">r<tspan font-size="11" dy="-6.8">2</tspan><tspan dy="6.8"> = 0.25</tspan></text>
</svg></body></html>
